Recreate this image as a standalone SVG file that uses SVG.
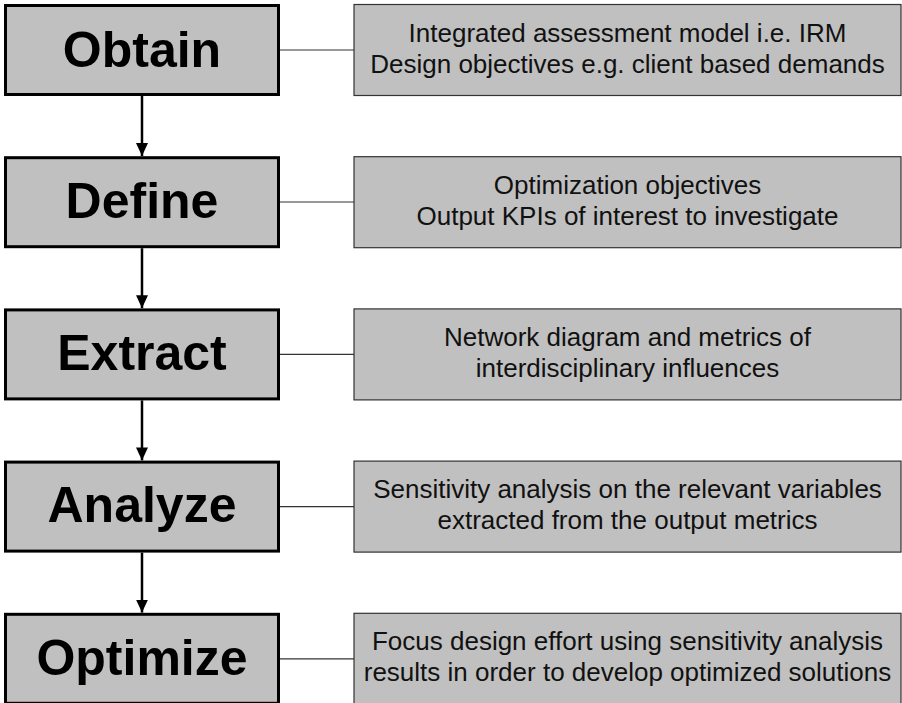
<svg xmlns="http://www.w3.org/2000/svg" width="902" height="703" viewBox="0 0 902 703">
  <style>
    .step { fill: #c0c0c0; stroke: #000; stroke-width: 3; }
    .note { fill: #c0c0c0; stroke: #333; stroke-width: 1.2; }
    .title { font-family: "Liberation Sans", Arial, sans-serif; font-weight: bold; font-size: 50px; fill: #000; text-anchor: middle; }
    .desc { font-family: "Liberation Sans", Arial, sans-serif; font-size: 26px; fill: #111; text-anchor: middle; }
    .link { stroke: #333; stroke-width: 1.2; fill: none; }
    .flow { stroke: #000; stroke-width: 2.5; fill: none; marker-end: url(#head); }
  </style>
  <defs>
    <marker id="head" markerUnits="userSpaceOnUse" markerWidth="13" markerHeight="12" refX="13" refY="6" orient="auto" viewBox="0 0 13 12">
      <path d="M0,0 L13,6 L0,12 Z" fill="#000"/>
    </marker>
  </defs>
  <rect width="902" height="703" fill="#fff"/>

  <!-- connectors -->
  <g id="connectors">
    <line class="link" x1="280" y1="50" x2="354" y2="50"/>
    <line class="link" x1="280" y1="202" x2="354" y2="202"/>
    <line class="link" x1="280" y1="354.4" x2="354" y2="354.4"/>
    <line class="link" x1="280" y1="506.6" x2="354" y2="506.6"/>
    <line class="link" x1="280" y1="658.8" x2="354" y2="658.8"/>
    <line class="flow" x1="142" y1="96" x2="142" y2="156"/>
    <line class="flow" x1="142" y1="248.2" x2="142" y2="308.2"/>
    <line class="flow" x1="142" y1="400.4" x2="142" y2="460.4"/>
    <line class="flow" x1="142" y1="552.6" x2="142" y2="612.6"/>
  </g>

  <g id="obtain">
    <rect class="step" x="5.5" y="5.5" width="273" height="89"/>
    <text class="title" x="142" y="67">Obtain</text>
  </g>
  <g id="obtain-note">
    <rect class="note" x="354" y="4.5" width="547" height="91"/>
    <text class="desc" x="627.5" y="41.5">Integrated assessment model i.e. IRM</text>
    <text class="desc" x="627.5" y="72.5">Design objectives e.g. client based demands</text>
  </g>

  <g id="define">
    <rect class="step" x="5.5" y="157.7" width="273" height="89"/>
    <text class="title" x="142" y="218">Define</text>
  </g>
  <g id="define-note">
    <rect class="note" x="354" y="156.7" width="547" height="91"/>
    <text class="desc" x="627.5" y="193.7">Optimization objectives</text>
    <text class="desc" x="627.5" y="224.7">Output KPIs of interest to investigate</text>
  </g>

  <g id="extract">
    <rect class="step" x="5.5" y="309.9" width="273" height="89"/>
    <text class="title" x="142" y="370.2">Extract</text>
  </g>
  <g id="extract-note">
    <rect class="note" x="354" y="308.9" width="547" height="91"/>
    <text class="desc" x="627.5" y="345.9">Network diagram and metrics of</text>
    <text class="desc" x="627.5" y="376.9">interdisciplinary influences</text>
  </g>

  <g id="analyze">
    <rect class="step" x="5.5" y="462.1" width="273" height="89"/>
    <text class="title" x="142" y="522.4">Analyze</text>
  </g>
  <g id="analyze-note">
    <rect class="note" x="354" y="461.1" width="547" height="91"/>
    <text class="desc" x="627.5" y="498.1">Sensitivity analysis on the relevant variables</text>
    <text class="desc" x="627.5" y="529.1">extracted from the output metrics</text>
  </g>

  <g id="optimize">
    <rect class="step" x="5.5" y="614.3" width="273" height="89"/>
    <text class="title" x="142" y="674.6">Optimize</text>
  </g>
  <g id="optimize-note">
    <rect class="note" x="354" y="613.3" width="547" height="91"/>
    <text class="desc" x="627.5" y="650.3">Focus design effort using sensitivity analysis</text>
    <text class="desc" x="627.5" y="681.3">results in order to develop optimized solutions</text>
  </g>
</svg>
